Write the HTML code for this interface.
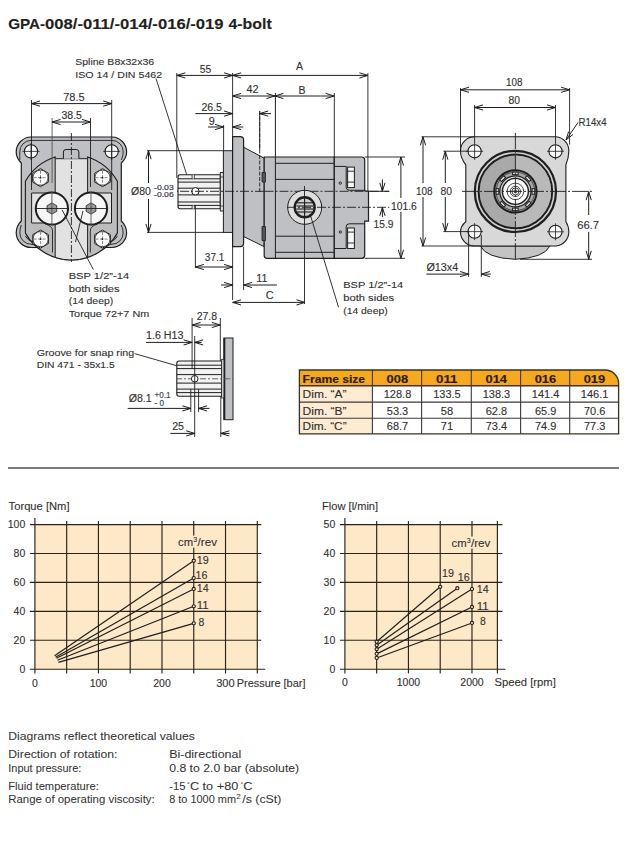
<!DOCTYPE html>
<html><head><meta charset="utf-8"><style>
html,body{margin:0;padding:0;background:#fff;}
svg{display:block;}
text{font-family:"Liberation Sans",sans-serif;}
</style></head><body>
<svg width="633" height="841" viewBox="0 0 633 841">
<rect width="633" height="841" fill="#fff"/>
<text x="8.2" y="28.5" font-size="13.8" text-anchor="start" font-weight="bold" fill="#231f20" stroke="#231f20" stroke-width="0.12" textLength="37" lengthAdjust="spacingAndGlyphs">GPA-</text>
<text x="45.0" y="28.5" font-size="13.8" text-anchor="start" font-weight="bold" fill="#231f20" stroke="#231f20" stroke-width="0.12" textLength="178.6" lengthAdjust="spacingAndGlyphs">008/-011/-014/-016/-019</text>
<text x="228.4" y="28.5" font-size="13.8" text-anchor="start" font-weight="bold" fill="#231f20" stroke="#231f20" stroke-width="0.12" textLength="43.3" lengthAdjust="spacingAndGlyphs">4-bolt</text>
<path d="M31,137 L112,137 A15,15 0 0 1 126.6,152 Q126.6,158 121.3,163 L121.3,221 Q126.6,226 126.6,233 A15,15 0 0 1 112,247.5 L31,247.5 A15,15 0 0 1 16.2,233 Q16.2,226 21.3,221 L21.3,163 Q16.2,158 16.2,152 A15,15 0 0 1 31,137 Z" fill="#bfc0c3" stroke="#1e1e1e" stroke-width="1.2"/>
<path d="M19.8,160 Q19.8,155 19.8,152 A11.3,11.3 0 0 1 31,140.4 L112,140.4 A11.3,11.3 0 0 1 123.2,152 Q123.2,156 121.3,160" fill="none" stroke="#1e1e1e" stroke-width="0.9"/>
<path d="M21.3,225 Q19.8,229 19.8,233 A11.3,11.3 0 0 0 31,244.2 L36,245" fill="none" stroke="#1e1e1e" stroke-width="0.9"/>
<path d="M121.3,225 Q123.2,229 123.2,233 A11.3,11.3 0 0 1 112,244.2 L107,245" fill="none" stroke="#1e1e1e" stroke-width="0.9"/>
<path d="M25.4,181.3 A52.8,52.8 0 0 1 117.4,181.3 L117.4,233.1 A52.8,52.8 0 0 1 25.4,233.1 Z" fill="#bcbcbc" stroke="none" stroke-width="1.0"/>
<path d="M25.4,233.1 L25.4,181.3 A52.8,52.8 0 0 1 55.2,156.95 L55.2,158.7" fill="none" stroke="#1e1e1e" stroke-width="1.1"/>
<path d="M117.4,233.1 L117.4,181.3 A52.8,52.8 0 0 0 87.6,156.95 L87.6,158.7" fill="none" stroke="#1e1e1e" stroke-width="1.1"/>
<path d="M25.4,233.1 A52.8,52.8 0 0 0 117.4,233.1" fill="none" stroke="#1e1e1e" stroke-width="1.2"/>
<path d="M25.4,236 Q27,240 33,242" fill="none" stroke="#1e1e1e" stroke-width="0.9"/>
<path d="M117.4,236 Q116,240 110,242" fill="none" stroke="#1e1e1e" stroke-width="0.9"/>
<path d="M55.2,158.7 L87.6,158.7 L87.6,193 L111.5,193 L111.5,223 L87.6,223 L87.6,257.45 A52.8,52.8 0 0 1 55.2,257.45 L55.2,223 L31.6,223 L31.6,193 L55.2,193 Z" fill="#e2e2e2" stroke="#1e1e1e" stroke-width="1.0"/>
<path d="M45.4,224 Q52.5,226 52.5,231 L52.5,252.5" fill="none" stroke="#1e1e1e" stroke-width="0.9"/>
<path d="M97.6,224 Q90.3,226 90.3,231 L90.3,252.5" fill="none" stroke="#1e1e1e" stroke-width="0.9"/>
<path d="M63.4,158.7 L63.4,152 Q63.4,149.5 66,149.5 L76.3,149.5 Q78.9,149.5 78.9,152 L78.9,158.7" fill="#bfc0c3" stroke="#1e1e1e" stroke-width="1.0"/>
<circle cx="31" cy="151.4" r="6.6" fill="#fafafa" stroke="#1e1e1e" stroke-width="1.1"/>
<line x1="22.5" y1="151.4" x2="39.5" y2="151.4" stroke="#1e1e1e" stroke-width="0.8"/>
<line x1="31" y1="143" x2="31" y2="160" stroke="#1e1e1e" stroke-width="0.8"/>
<circle cx="111.7" cy="151.4" r="6.6" fill="#fafafa" stroke="#1e1e1e" stroke-width="1.1"/>
<line x1="103.2" y1="151.4" x2="120.2" y2="151.4" stroke="#1e1e1e" stroke-width="0.8"/>
<line x1="111.7" y1="143" x2="111.7" y2="160" stroke="#1e1e1e" stroke-width="0.8"/>
<polygon points="48.29,182.20 40.50,186.70 32.71,182.20 32.71,173.20 40.50,168.70 48.29,173.20" fill="#f4f4f4" stroke="#1e1e1e" stroke-width="1.0"/>
<circle cx="40.5" cy="177.7" r="7.6" fill="#fafafa" stroke="#1e1e1e" stroke-width="0.8"/>
<line x1="33.5" y1="177.7" x2="47.5" y2="177.7" stroke="#777" stroke-width="0.9" stroke-dasharray="3,1.5"/>
<line x1="40.5" y1="170.7" x2="40.5" y2="184.7" stroke="#777" stroke-width="0.9" stroke-dasharray="3,1.5"/>
<circle cx="40.5" cy="177.7" r="0.9" fill="#1e1e1e" stroke="none" stroke-width="1.0"/>
<polygon points="110.29,182.20 102.50,186.70 94.71,182.20 94.71,173.20 102.50,168.70 110.29,173.20" fill="#f4f4f4" stroke="#1e1e1e" stroke-width="1.0"/>
<circle cx="102.5" cy="177.7" r="7.6" fill="#fafafa" stroke="#1e1e1e" stroke-width="0.8"/>
<line x1="95.5" y1="177.7" x2="109.5" y2="177.7" stroke="#777" stroke-width="0.9" stroke-dasharray="3,1.5"/>
<line x1="102.5" y1="170.7" x2="102.5" y2="184.7" stroke="#777" stroke-width="0.9" stroke-dasharray="3,1.5"/>
<circle cx="102.5" cy="177.7" r="0.9" fill="#1e1e1e" stroke="none" stroke-width="1.0"/>
<polygon points="48.39,243.60 40.60,248.10 32.81,243.60 32.81,234.60 40.60,230.10 48.39,234.60" fill="#f4f4f4" stroke="#1e1e1e" stroke-width="1.0"/>
<circle cx="40.6" cy="239.1" r="7.6" fill="#fafafa" stroke="#1e1e1e" stroke-width="0.8"/>
<line x1="33.6" y1="239.1" x2="47.6" y2="239.1" stroke="#777" stroke-width="0.9" stroke-dasharray="3,1.5"/>
<line x1="40.6" y1="232.1" x2="40.6" y2="246.1" stroke="#777" stroke-width="0.9" stroke-dasharray="3,1.5"/>
<circle cx="40.6" cy="239.1" r="0.9" fill="#1e1e1e" stroke="none" stroke-width="1.0"/>
<polygon points="110.29,243.60 102.50,248.10 94.71,243.60 94.71,234.60 102.50,230.10 110.29,234.60" fill="#f4f4f4" stroke="#1e1e1e" stroke-width="1.0"/>
<circle cx="102.5" cy="239.1" r="7.6" fill="#fafafa" stroke="#1e1e1e" stroke-width="0.8"/>
<line x1="95.5" y1="239.1" x2="109.5" y2="239.1" stroke="#777" stroke-width="0.9" stroke-dasharray="3,1.5"/>
<line x1="102.5" y1="232.1" x2="102.5" y2="246.1" stroke="#777" stroke-width="0.9" stroke-dasharray="3,1.5"/>
<circle cx="102.5" cy="239.1" r="0.9" fill="#1e1e1e" stroke="none" stroke-width="1.0"/>
<circle cx="51.9" cy="208.5" r="16.1" fill="#f6f6f6" stroke="#1e1e1e" stroke-width="2.0"/>
<polygon points="56.75,211.30 51.90,214.10 47.05,211.30 47.05,205.70 51.90,202.90 56.75,205.70" fill="#9a9a9a" stroke="#1e1e1e" stroke-width="0.8"/>
<line x1="34.9" y1="208.5" x2="68.9" y2="208.5" stroke="#1e1e1e" stroke-width="0.9"/>
<line x1="51.9" y1="191" x2="51.9" y2="226" stroke="#555" stroke-width="0.9"/>
<circle cx="51.9" cy="208.5" r="0.8" fill="#1e1e1e" stroke="none" stroke-width="1.0"/>
<circle cx="91.0" cy="208.5" r="16.1" fill="#f6f6f6" stroke="#1e1e1e" stroke-width="2.0"/>
<polygon points="95.85,211.30 91.00,214.10 86.15,211.30 86.15,205.70 91.00,202.90 95.85,205.70" fill="#9a9a9a" stroke="#1e1e1e" stroke-width="0.8"/>
<line x1="74.0" y1="208.5" x2="108.0" y2="208.5" stroke="#1e1e1e" stroke-width="0.9"/>
<line x1="91.0" y1="191" x2="91.0" y2="226" stroke="#555" stroke-width="0.9"/>
<circle cx="91.0" cy="208.5" r="0.8" fill="#1e1e1e" stroke="none" stroke-width="1.0"/>
<line x1="71.4" y1="133" x2="71.4" y2="262" stroke="#1e1e1e" stroke-width="0.9" stroke-dasharray="8,2,2,2"/>
<line x1="31.5" y1="100" x2="31.5" y2="190" stroke="#1e1e1e" stroke-width="0.9"/>
<line x1="111.7" y1="100" x2="111.7" y2="190" stroke="#1e1e1e" stroke-width="0.9"/>
<line x1="31.5" y1="103.6" x2="111.7" y2="103.6" stroke="#1e1e1e" stroke-width="1.0"/>
<polyline points="40.00,101.00 31.50,103.60 40.00,106.20" fill="none" stroke="#1e1e1e" stroke-width="1.0"/>
<polyline points="103.20,106.20 111.70,103.60 103.20,101.00" fill="none" stroke="#1e1e1e" stroke-width="1.0"/>
<text x="73.9" y="101.1" font-size="10" text-anchor="middle" font-weight="normal" fill="#303030" stroke="#303030" stroke-width="0.12" textLength="21.5" lengthAdjust="spacingAndGlyphs">78.5</text>
<line x1="52.1" y1="118" x2="52.1" y2="183" stroke="#555" stroke-width="0.9"/>
<line x1="90.5" y1="118" x2="90.5" y2="187" stroke="#1e1e1e" stroke-width="0.9"/>
<line x1="52.1" y1="122" x2="90.5" y2="122" stroke="#1e1e1e" stroke-width="1.0"/>
<polyline points="60.60,119.40 52.10,122.00 60.60,124.60" fill="none" stroke="#1e1e1e" stroke-width="1.0"/>
<polyline points="82.00,124.60 90.50,122.00 82.00,119.40" fill="none" stroke="#1e1e1e" stroke-width="1.0"/>
<text x="71.7" y="118.6" font-size="10" text-anchor="middle" font-weight="normal" fill="#303030" stroke="#303030" stroke-width="0.12" textLength="20.5" lengthAdjust="spacingAndGlyphs">38.5</text>
<line x1="62.1" y1="209.9" x2="93.4" y2="269.6" stroke="#1e1e1e" stroke-width="0.9"/>
<line x1="83" y1="210.9" x2="75.5" y2="242" stroke="#1e1e1e" stroke-width="0.9"/>
<text x="68.7" y="278.6" font-size="9.8" text-anchor="start" font-weight="normal" fill="#303030" stroke="#303030" stroke-width="0.12" textLength="60.5" lengthAdjust="spacingAndGlyphs">BSP 1/2&#8221;-14</text>
<text x="68.7" y="291.5" font-size="9.8" text-anchor="start" font-weight="normal" fill="#303030" stroke="#303030" stroke-width="0.12" textLength="51" lengthAdjust="spacingAndGlyphs">both sides</text>
<text x="68.7" y="304.40000000000003" font-size="9.8" text-anchor="start" font-weight="normal" fill="#303030" stroke="#303030" stroke-width="0.12" textLength="44.5" lengthAdjust="spacingAndGlyphs">(14 deep)</text>
<text x="68.7" y="317.3" font-size="9.8" text-anchor="start" font-weight="normal" fill="#303030" stroke="#303030" stroke-width="0.12" textLength="80.6" lengthAdjust="spacingAndGlyphs">Torque 72+7 Nm</text>
<text x="75.2" y="64.6" font-size="9.6" text-anchor="start" font-weight="normal" fill="#303030" stroke="#303030" stroke-width="0.12" textLength="79" lengthAdjust="spacingAndGlyphs">Spline B8x32x36</text>
<text x="75.2" y="77.5" font-size="9.6" text-anchor="start" font-weight="normal" fill="#303030" stroke="#303030" stroke-width="0.12" textLength="87" lengthAdjust="spacingAndGlyphs">ISO 14 / DIN 5462</text>
<line x1="156" y1="78.5" x2="186.6" y2="174.4" stroke="#1e1e1e" stroke-width="0.9"/>
<line x1="176.8" y1="73" x2="176.8" y2="178" stroke="#1e1e1e" stroke-width="0.9"/>
<line x1="232.6" y1="73" x2="232.6" y2="300" stroke="#1e1e1e" stroke-width="0.9"/>
<line x1="176.8" y1="75.4" x2="232.6" y2="75.4" stroke="#1e1e1e" stroke-width="1.0"/>
<polyline points="185.30,72.80 176.80,75.40 185.30,78.00" fill="none" stroke="#1e1e1e" stroke-width="1.0"/>
<polyline points="224.10,78.00 232.60,75.40 224.10,72.80" fill="none" stroke="#1e1e1e" stroke-width="1.0"/>
<text x="205.4" y="72.7" font-size="10" text-anchor="middle" font-weight="normal" fill="#303030" stroke="#303030" stroke-width="0.12" textLength="11.5" lengthAdjust="spacingAndGlyphs">55</text>
<line x1="232.6" y1="75.4" x2="367.9" y2="75.4" stroke="#1e1e1e" stroke-width="1.0"/>
<polyline points="241.10,72.80 232.60,75.40 241.10,78.00" fill="none" stroke="#1e1e1e" stroke-width="1.0"/>
<polyline points="359.40,78.00 367.90,75.40 359.40,72.80" fill="none" stroke="#1e1e1e" stroke-width="1.0"/>
<text x="299.5" y="69.6" font-size="10" text-anchor="middle" font-weight="normal" fill="#303030" stroke="#303030" stroke-width="0.12" textLength="7" lengthAdjust="spacingAndGlyphs">A</text>
<line x1="232.6" y1="96" x2="334.2" y2="96" stroke="#1e1e1e" stroke-width="1.0"/>
<polyline points="241.10,93.40 232.60,96.00 241.10,98.60" fill="none" stroke="#1e1e1e" stroke-width="1.0"/>
<polyline points="266.40,98.60 274.90,96.00 266.40,93.40" fill="none" stroke="#1e1e1e" stroke-width="1.0"/>
<polyline points="283.40,93.40 274.90,96.00 283.40,98.60" fill="none" stroke="#1e1e1e" stroke-width="1.0"/>
<polyline points="325.70,98.60 334.20,96.00 325.70,93.40" fill="none" stroke="#1e1e1e" stroke-width="1.0"/>
<text x="252.5" y="92.9" font-size="10" text-anchor="middle" font-weight="normal" fill="#303030" stroke="#303030" stroke-width="0.12" textLength="12" lengthAdjust="spacingAndGlyphs">42</text>
<text x="302" y="93.7" font-size="10" text-anchor="middle" font-weight="normal" fill="#303030" stroke="#303030" stroke-width="0.12" textLength="7" lengthAdjust="spacingAndGlyphs">B</text>
<line x1="195.3" y1="113.6" x2="232.6" y2="113.6" stroke="#1e1e1e" stroke-width="1.0"/>
<polyline points="224.10,116.20 232.60,113.60 224.10,111.00" fill="none" stroke="#1e1e1e" stroke-width="1.0"/>
<line x1="259.7" y1="113.6" x2="271" y2="113.6" stroke="#1e1e1e" stroke-width="1.0"/>
<polyline points="268.20,111.00 259.70,113.60 268.20,116.20" fill="none" stroke="#1e1e1e" stroke-width="1.0"/>
<text x="211.7" y="111" font-size="10" text-anchor="middle" font-weight="normal" fill="#303030" stroke="#303030" stroke-width="0.12" textLength="20.5" lengthAdjust="spacingAndGlyphs">26.5</text>
<line x1="208" y1="127" x2="223.6" y2="127" stroke="#1e1e1e" stroke-width="1.0"/>
<polyline points="215.10,129.60 223.60,127.00 215.10,124.40" fill="none" stroke="#1e1e1e" stroke-width="1.0"/>
<line x1="232.6" y1="127" x2="243.3" y2="127" stroke="#1e1e1e" stroke-width="1.0"/>
<polyline points="241.10,124.40 232.60,127.00 241.10,129.60" fill="none" stroke="#1e1e1e" stroke-width="1.0"/>
<line x1="223.6" y1="125" x2="223.6" y2="151" stroke="#1e1e1e" stroke-width="0.9"/>
<text x="211.7" y="124.5" font-size="10" text-anchor="middle" font-weight="normal" fill="#303030" stroke="#303030" stroke-width="0.12" textLength="6" lengthAdjust="spacingAndGlyphs">9</text>
<rect x="223.4" y="150.7" width="9.2" height="81.7" fill="#bfc0c3" stroke="#1e1e1e" stroke-width="1.0" rx="0"/>
<path d="M243.6,147.2 L264.2,158.2 L264.2,246.7 L243.6,236.5 Z" fill="#bfc0c3" stroke="#1e1e1e" stroke-width="1.0"/>
<path d="M232.6,136.6 L240.2,136.6 Q243.6,136.6 243.6,140 L243.6,243 Q243.6,246.6 240.2,246.6 L232.6,246.6 Z" fill="#bfc0c3" stroke="#1e1e1e" stroke-width="1.2"/>
<path d="M180,174.7 L220.3,174.7 L220.3,208.7 L180,208.7 Q178,208.7 178,206.5 L178,177 Q178,174.7 180,174.7 Z" fill="#f2f2f2" stroke="#1e1e1e" stroke-width="1.1"/>
<line x1="178" y1="178.8" x2="220.3" y2="178.8" stroke="#1e1e1e" stroke-width="1.0"/>
<line x1="178" y1="182.1" x2="220.3" y2="182.1" stroke="#1e1e1e" stroke-width="1.0"/>
<line x1="178" y1="188.2" x2="220.3" y2="188.2" stroke="#1e1e1e" stroke-width="1.0"/>
<line x1="178" y1="194.9" x2="220.3" y2="194.9" stroke="#1e1e1e" stroke-width="1.0"/>
<line x1="178" y1="202" x2="220.3" y2="202" stroke="#1e1e1e" stroke-width="1.0"/>
<line x1="178" y1="205.4" x2="220.3" y2="205.4" stroke="#1e1e1e" stroke-width="1.0"/>
<rect x="220.3" y="172.5" width="3.1" height="38.5" fill="#e0e0e0" stroke="#1e1e1e" stroke-width="0.9" rx="0"/>
<line x1="220.3" y1="177" x2="223.4" y2="177" stroke="#1e1e1e" stroke-width="0.7"/>
<line x1="220.3" y1="206" x2="223.4" y2="206" stroke="#1e1e1e" stroke-width="0.7"/>
<line x1="193.2" y1="174.7" x2="193.2" y2="178.8" stroke="#fff" stroke-width="1.4"/>
<line x1="193.2" y1="205.4" x2="193.2" y2="208.7" stroke="#fff" stroke-width="1.4"/>
<line x1="192.1" y1="174.7" x2="192.1" y2="178.8" stroke="#1e1e1e" stroke-width="0.8"/>
<line x1="194.3" y1="174.7" x2="194.3" y2="178.8" stroke="#1e1e1e" stroke-width="0.8"/>
<line x1="192.1" y1="205.4" x2="192.1" y2="208.7" stroke="#1e1e1e" stroke-width="0.8"/>
<line x1="194.3" y1="205.4" x2="194.3" y2="208.7" stroke="#1e1e1e" stroke-width="0.8"/>
<circle cx="195.4" cy="191.3" r="3.7" fill="#fff" stroke="#1e1e1e" stroke-width="1.0"/>
<line x1="195.4" y1="205" x2="195.4" y2="267.8" stroke="#1e1e1e" stroke-width="0.9"/>
<line x1="150" y1="191.3" x2="264" y2="191.3" stroke="#1e1e1e" stroke-width="0.9" stroke-dasharray="9,2,2,2"/>
<line x1="147" y1="150.7" x2="223.4" y2="150.7" stroke="#1e1e1e" stroke-width="0.9"/>
<line x1="147" y1="232.4" x2="223.4" y2="232.4" stroke="#1e1e1e" stroke-width="0.9"/>
<line x1="148.5" y1="150.7" x2="148.5" y2="232.4" stroke="#1e1e1e" stroke-width="1.0"/>
<polyline points="151.10,159.20 148.50,150.70 145.90,159.20" fill="none" stroke="#1e1e1e" stroke-width="1.0"/>
<polyline points="145.90,223.90 148.50,232.40 151.10,223.90" fill="none" stroke="#1e1e1e" stroke-width="1.0"/>
<rect x="129" y="183" width="48" height="16" fill="#fff" stroke="none" stroke-width="1.0" rx="0"/>
<text x="131.1" y="194.6" font-size="10.5" text-anchor="start" font-weight="normal" fill="#303030" stroke="#303030" stroke-width="0.12" textLength="19.8" lengthAdjust="spacingAndGlyphs">Ø80</text>
<text x="154" y="189.6" font-size="7.5" text-anchor="start" font-weight="normal" fill="#3b3b5a" stroke="#3b3b5a" stroke-width="0.2" textLength="19.7" lengthAdjust="spacingAndGlyphs">-0.03</text>
<text x="154" y="196.5" font-size="7.5" text-anchor="start" font-weight="normal" fill="#3b3b5a" stroke="#3b3b5a" stroke-width="0.2" textLength="19.7" lengthAdjust="spacingAndGlyphs">-0.06</text>
<line x1="243.6" y1="246.6" x2="243.6" y2="290" stroke="#1e1e1e" stroke-width="0.9"/>
<line x1="195.4" y1="267" x2="232.6" y2="267" stroke="#1e1e1e" stroke-width="1.0"/>
<polyline points="203.90,264.40 195.40,267.00 203.90,269.60" fill="none" stroke="#1e1e1e" stroke-width="1.0"/>
<polyline points="224.10,269.60 232.60,267.00 224.10,264.40" fill="none" stroke="#1e1e1e" stroke-width="1.0"/>
<text x="214.6" y="261.4" font-size="10" text-anchor="middle" font-weight="normal" fill="#303030" stroke="#303030" stroke-width="0.12" textLength="19.5" lengthAdjust="spacingAndGlyphs">37.1</text>
<line x1="221" y1="285" x2="232.6" y2="285" stroke="#1e1e1e" stroke-width="1.0"/>
<polyline points="224.10,287.60 232.60,285.00 224.10,282.40" fill="none" stroke="#1e1e1e" stroke-width="1.0"/>
<line x1="243.6" y1="285" x2="276.9" y2="285" stroke="#1e1e1e" stroke-width="1.0"/>
<polyline points="252.10,282.40 243.60,285.00 252.10,287.60" fill="none" stroke="#1e1e1e" stroke-width="1.0"/>
<text x="261.8" y="281.9" font-size="10" text-anchor="middle" font-weight="normal" fill="#303030" stroke="#303030" stroke-width="0.12" textLength="11" lengthAdjust="spacingAndGlyphs">11</text>
<line x1="232.6" y1="302.4" x2="305" y2="302.4" stroke="#1e1e1e" stroke-width="1.0"/>
<polyline points="241.10,299.80 232.60,302.40 241.10,305.00" fill="none" stroke="#1e1e1e" stroke-width="1.0"/>
<polyline points="296.50,305.00 305.00,302.40 296.50,299.80" fill="none" stroke="#1e1e1e" stroke-width="1.0"/>
<text x="269.7" y="299.2" font-size="10" text-anchor="middle" font-weight="normal" fill="#303030" stroke="#303030" stroke-width="0.12" textLength="7.9" lengthAdjust="spacingAndGlyphs">C</text>
<path d="M264.2,157 L334.3,157 L334.3,258.3 L267,258.3 Q264.2,258.3 264.2,255.5 Z" fill="#bfc0c3" stroke="#1e1e1e" stroke-width="1.2"/>
<line x1="275.4" y1="163.3" x2="334.3" y2="163.3" stroke="#1e1e1e" stroke-width="1.0"/>
<line x1="275.4" y1="179.4" x2="334.3" y2="179.4" stroke="#1e1e1e" stroke-width="1.0"/>
<line x1="275.4" y1="236.2" x2="334.3" y2="236.2" stroke="#1e1e1e" stroke-width="1.0"/>
<line x1="275.4" y1="252.3" x2="334.3" y2="252.3" stroke="#1e1e1e" stroke-width="1.0"/>
<path d="M262,172.5 L265.5,172.5 L265.5,182 L262,182 Z" fill="#555" stroke="#1e1e1e" stroke-width="0.8"/>
<path d="M262,226.5 L265.5,226.5 L265.5,240.6 L262,240.6 Z" fill="#555" stroke="#1e1e1e" stroke-width="0.8"/>
<line x1="275.4" y1="93" x2="275.4" y2="258.3" stroke="#1e1e1e" stroke-width="1.0"/>
<line x1="259.7" y1="111" x2="259.7" y2="192" stroke="#1e1e1e" stroke-width="0.9" stroke-dasharray="4,1.5"/>
<line x1="259.7" y1="111" x2="259.7" y2="150" stroke="#1e1e1e" stroke-width="0.9"/>
<path d="M334.3,157 L361.7,157 Q364.7,157 364.7,160 L364.7,191 L368.5,191 L368.5,221.1 L364.7,221.1 L364.7,255.3 Q364.7,258.3 361.7,258.3 L334.3,258.3 Z" fill="#bfc0c3" stroke="#1e1e1e" stroke-width="1.2"/>
<path d="M334.3,166.4 L346.2,166.4 L346.2,187.3 Q346.2,190.3 349.2,190.3 L364.7,190.3" fill="none" stroke="#1e1e1e" stroke-width="1.0"/>
<path d="M334.3,248.5 L346.2,248.5 L346.2,226.8 Q346.2,223.8 349.2,223.8 L364.7,223.8" fill="none" stroke="#1e1e1e" stroke-width="1.0"/>
<rect x="347.6" y="167.1" width="6.8" height="20.5" fill="#f6f6f6" stroke="#1e1e1e" stroke-width="1.0" rx="0"/>
<line x1="347.6" y1="171.2" x2="354.4" y2="171.2" stroke="#1e1e1e" stroke-width="0.9"/>
<line x1="347.6" y1="182.1" x2="354.4" y2="182.1" stroke="#1e1e1e" stroke-width="0.9"/>
<rect x="347.6" y="228" width="6.8" height="20.5" fill="#f6f6f6" stroke="#1e1e1e" stroke-width="1.0" rx="0"/>
<line x1="347.6" y1="232.1" x2="354.4" y2="232.1" stroke="#1e1e1e" stroke-width="0.9"/>
<line x1="347.6" y1="243.0" x2="354.4" y2="243.0" stroke="#1e1e1e" stroke-width="0.9"/>
<circle cx="340.3" cy="183.1" r="1.2" fill="none" stroke="#1e1e1e" stroke-width="0.9"/>
<circle cx="340.3" cy="232" r="1.2" fill="none" stroke="#1e1e1e" stroke-width="0.9"/>
<line x1="367.9" y1="73" x2="367.9" y2="191" stroke="#1e1e1e" stroke-width="0.9"/>
<line x1="264.5" y1="191.3" x2="389.3" y2="191.3" stroke="#1e1e1e" stroke-width="0.9" stroke-dasharray="9,2,2,2"/>
<line x1="334.3" y1="93" x2="334.3" y2="157" stroke="#1e1e1e" stroke-width="0.9"/>
<circle cx="304.7" cy="207.3" r="17.0" fill="#dedede" stroke="#1e1e1e" stroke-width="1.0"/>
<circle cx="304.7" cy="207.3" r="10.0" fill="#d0d0d0" stroke="#1e1e1e" stroke-width="2.4"/>
<line x1="296.5" y1="202.8" x2="313" y2="202.8" stroke="#1e1e1e" stroke-width="1.1"/>
<line x1="296.5" y1="206" x2="313" y2="206" stroke="#1e1e1e" stroke-width="1.1"/>
<line x1="296.5" y1="209" x2="313" y2="209" stroke="#1e1e1e" stroke-width="1.1"/>
<line x1="296.5" y1="212" x2="313" y2="212" stroke="#1e1e1e" stroke-width="1.1"/>
<line x1="304.7" y1="196" x2="304.7" y2="218" stroke="#1e1e1e" stroke-width="0.9"/>
<line x1="287" y1="207.3" x2="389.3" y2="207.3" stroke="#1e1e1e" stroke-width="0.9" stroke-dasharray="9,2,2,2"/>
<line x1="304.5" y1="186" x2="304.5" y2="304" stroke="#1e1e1e" stroke-width="0.9"/>
<line x1="310" y1="214" x2="338.5" y2="307.1" stroke="#1e1e1e" stroke-width="0.9"/>
<text x="343.2" y="288.2" font-size="9.8" text-anchor="start" font-weight="normal" fill="#303030" stroke="#303030" stroke-width="0.12" textLength="60.1" lengthAdjust="spacingAndGlyphs">BSP 1/2&#8221;-14</text>
<text x="343.2" y="300.84999999999997" font-size="9.8" text-anchor="start" font-weight="normal" fill="#303030" stroke="#303030" stroke-width="0.12" textLength="51" lengthAdjust="spacingAndGlyphs">both sides</text>
<text x="343.2" y="313.5" font-size="9.8" text-anchor="start" font-weight="normal" fill="#303030" stroke="#303030" stroke-width="0.12" textLength="44.5" lengthAdjust="spacingAndGlyphs">(14 deep)</text>
<line x1="364.7" y1="157" x2="405" y2="157" stroke="#1e1e1e" stroke-width="0.9"/>
<line x1="364.7" y1="258.3" x2="405" y2="258.3" stroke="#1e1e1e" stroke-width="0.9"/>
<line x1="400.9" y1="157" x2="400.9" y2="258.3" stroke="#1e1e1e" stroke-width="1.0"/>
<polyline points="403.50,165.50 400.90,157.00 398.30,165.50" fill="none" stroke="#1e1e1e" stroke-width="1.0"/>
<polyline points="398.30,249.80 400.90,258.30 403.50,249.80" fill="none" stroke="#1e1e1e" stroke-width="1.0"/>
<rect x="390" y="198" width="28" height="14" fill="#fff" stroke="none" stroke-width="1.0" rx="0"/>
<text x="391" y="209.6" font-size="10" text-anchor="start" font-weight="normal" fill="#303030" stroke="#303030" stroke-width="0.12" textLength="25.7" lengthAdjust="spacingAndGlyphs">101.6</text>
<line x1="368.5" y1="191.3" x2="389.3" y2="191.3" stroke="#1e1e1e" stroke-width="0.9"/>
<line x1="382.4" y1="179.4" x2="382.4" y2="191.3" stroke="#1e1e1e" stroke-width="1.0"/>
<polyline points="379.80,182.80 382.40,191.30 385.00,182.80" fill="none" stroke="#1e1e1e" stroke-width="1.0"/>
<line x1="382.4" y1="207.3" x2="382.4" y2="217" stroke="#1e1e1e" stroke-width="1.0"/>
<polyline points="385.00,215.80 382.40,207.30 379.80,215.80" fill="none" stroke="#1e1e1e" stroke-width="1.0"/>
<text x="373.6" y="228" font-size="10" text-anchor="start" font-weight="normal" fill="#303030" stroke="#303030" stroke-width="0.12" textLength="19.8" lengthAdjust="spacingAndGlyphs">15.9</text>
<path d="M480.4,246 Q486,258 515,259.3 Q544,258 550,246 Z" fill="#c4c4c4" stroke="#1e1e1e" stroke-width="1.0"/>
<path d="M474.6,136.8 L556,136.8 A14,14 0 0 1 568.8,151.3 Q568.8,158 565.9,164.8 L565.9,221.7 Q568.8,226 568.8,231.8 A14,14 0 0 1 556,246 L474.6,246 A14,14 0 0 1 460.5,231.8 Q460.5,226 465.8,221.7 L465.8,164.8 Q460.5,158 460.5,151.3 A14,14 0 0 1 474.6,136.8 Z" fill="#d8d8d8" stroke="#1e1e1e" stroke-width="1.1"/>
<circle cx="515.4" cy="191.4" r="40.6" fill="#d2d2d2" stroke="#1e1e1e" stroke-width="2.2"/>
<circle cx="515.4" cy="191.4" r="36.8" fill="#a9a9a9" stroke="#1e1e1e" stroke-width="2.0"/>
<path d="M515.4,155.60000000000002 A35.8,35.8 0 0 1 515.4,227.2 Z" fill="#b9b9b9" stroke="none"/>
<circle cx="515.4" cy="191.4" r="21.2" fill="#a8a8a8" stroke="#1e1e1e" stroke-width="2.0"/>
<circle cx="515.4" cy="191.4" r="19.3" fill="none" stroke="#333" stroke-width="0.8"/>
<circle cx="515.4" cy="191.4" r="15.6" fill="#d4d4d4" stroke="#1e1e1e" stroke-width="1.2"/>
<rect x="512.60" y="172.10" width="5.6" height="2.6" fill="#e4e4e4" stroke="#1e1e1e" stroke-width="1.0" transform="rotate(0.0 515.40 173.40)"/>
<rect x="525.33" y="177.37" width="5.6" height="2.6" fill="#e4e4e4" stroke="#1e1e1e" stroke-width="1.0" transform="rotate(45.0 528.13 178.67)"/>
<rect x="530.60" y="190.10" width="5.6" height="2.6" fill="#e4e4e4" stroke="#1e1e1e" stroke-width="1.0" transform="rotate(90.0 533.40 191.40)"/>
<rect x="525.33" y="202.83" width="5.6" height="2.6" fill="#e4e4e4" stroke="#1e1e1e" stroke-width="1.0" transform="rotate(135.0 528.13 204.13)"/>
<rect x="512.60" y="208.10" width="5.6" height="2.6" fill="#e4e4e4" stroke="#1e1e1e" stroke-width="1.0" transform="rotate(180.0 515.40 209.40)"/>
<rect x="499.87" y="202.83" width="5.6" height="2.6" fill="#e4e4e4" stroke="#1e1e1e" stroke-width="1.0" transform="rotate(225.0 502.67 204.13)"/>
<rect x="494.60" y="190.10" width="5.6" height="2.6" fill="#e4e4e4" stroke="#1e1e1e" stroke-width="1.0" transform="rotate(270.0 497.40 191.40)"/>
<rect x="499.87" y="177.37" width="5.6" height="2.6" fill="#e4e4e4" stroke="#1e1e1e" stroke-width="1.0" transform="rotate(315.0 502.67 178.67)"/>
<circle cx="515.4" cy="191.4" r="13.0" fill="#fbfbfb" stroke="#1e1e1e" stroke-width="1.4"/>
<circle cx="515.4" cy="191.4" r="8.3" fill="none" stroke="#333" stroke-width="0.9"/>
<circle cx="515.4" cy="191.4" r="5.1" fill="none" stroke="#333" stroke-width="0.9"/>
<circle cx="515.4" cy="191.4" r="3.5" fill="none" stroke="#333" stroke-width="0.9"/>
<circle cx="515.4" cy="191.4" r="1.5" fill="none" stroke="#333" stroke-width="0.9"/>
<line x1="462" y1="191.4" x2="592" y2="191.4" stroke="#1e1e1e" stroke-width="0.9" stroke-dasharray="16,2,2,2"/>
<line x1="515.4" y1="133" x2="515.4" y2="261" stroke="#1e1e1e" stroke-width="0.9" stroke-dasharray="16,2,2,2"/>
<circle cx="474.6" cy="151.3" r="6.6" fill="#fafafa" stroke="#1e1e1e" stroke-width="1.1"/>
<line x1="466.1" y1="151.3" x2="483.1" y2="151.3" stroke="#1e1e1e" stroke-width="0.8"/>
<line x1="474.6" y1="142.8" x2="474.6" y2="159.8" stroke="#1e1e1e" stroke-width="0.8"/>
<circle cx="555.5" cy="151.3" r="6.6" fill="#fafafa" stroke="#1e1e1e" stroke-width="1.1"/>
<line x1="547.0" y1="151.3" x2="564.0" y2="151.3" stroke="#1e1e1e" stroke-width="0.8"/>
<line x1="555.5" y1="142.8" x2="555.5" y2="159.8" stroke="#1e1e1e" stroke-width="0.8"/>
<circle cx="474.6" cy="231.6" r="6.6" fill="#fafafa" stroke="#1e1e1e" stroke-width="1.1"/>
<line x1="466.1" y1="231.6" x2="483.1" y2="231.6" stroke="#1e1e1e" stroke-width="0.8"/>
<line x1="474.6" y1="223.1" x2="474.6" y2="240.1" stroke="#1e1e1e" stroke-width="0.8"/>
<circle cx="555.5" cy="231.8" r="6.6" fill="#fafafa" stroke="#1e1e1e" stroke-width="1.1"/>
<line x1="547.0" y1="231.8" x2="564.0" y2="231.8" stroke="#1e1e1e" stroke-width="0.8"/>
<line x1="555.5" y1="223.3" x2="555.5" y2="240.3" stroke="#1e1e1e" stroke-width="0.8"/>
<line x1="460.5" y1="88" x2="460.5" y2="151" stroke="#1e1e1e" stroke-width="0.9"/>
<line x1="569.6" y1="88" x2="569.6" y2="144.6" stroke="#1e1e1e" stroke-width="0.9"/>
<line x1="460.5" y1="89.8" x2="569.6" y2="89.8" stroke="#1e1e1e" stroke-width="1.0"/>
<polyline points="469.00,87.20 460.50,89.80 469.00,92.40" fill="none" stroke="#1e1e1e" stroke-width="1.0"/>
<polyline points="561.10,92.40 569.60,89.80 561.10,87.20" fill="none" stroke="#1e1e1e" stroke-width="1.0"/>
<text x="514.3" y="85.6" font-size="10" text-anchor="middle" font-weight="normal" fill="#303030" stroke="#303030" stroke-width="0.12" textLength="16.5" lengthAdjust="spacingAndGlyphs">108</text>
<line x1="474.6" y1="105" x2="474.6" y2="143" stroke="#1e1e1e" stroke-width="0.9"/>
<line x1="555.5" y1="105" x2="555.5" y2="143" stroke="#1e1e1e" stroke-width="0.9"/>
<line x1="474.6" y1="107.5" x2="555.5" y2="107.5" stroke="#1e1e1e" stroke-width="1.0"/>
<polyline points="483.10,104.90 474.60,107.50 483.10,110.10" fill="none" stroke="#1e1e1e" stroke-width="1.0"/>
<polyline points="547.00,110.10 555.50,107.50 547.00,104.90" fill="none" stroke="#1e1e1e" stroke-width="1.0"/>
<text x="514.3" y="104" font-size="10" text-anchor="middle" font-weight="normal" fill="#303030" stroke="#303030" stroke-width="0.12" textLength="11.5" lengthAdjust="spacingAndGlyphs">80</text>
<line x1="421.5" y1="136.8" x2="474" y2="136.8" stroke="#1e1e1e" stroke-width="0.9"/>
<line x1="421.5" y1="246" x2="480" y2="246" stroke="#1e1e1e" stroke-width="0.9"/>
<line x1="423" y1="136.8" x2="423" y2="246" stroke="#1e1e1e" stroke-width="1.0"/>
<polyline points="425.60,145.30 423.00,136.80 420.40,145.30" fill="none" stroke="#1e1e1e" stroke-width="1.0"/>
<polyline points="420.40,237.50 423.00,246.00 425.60,237.50" fill="none" stroke="#1e1e1e" stroke-width="1.0"/>
<rect x="415" y="183" width="19" height="14" fill="#fff" stroke="none" stroke-width="1.0" rx="0"/>
<text x="416" y="194.8" font-size="10" text-anchor="start" font-weight="normal" fill="#303030" stroke="#303030" stroke-width="0.12" textLength="16.5" lengthAdjust="spacingAndGlyphs">108</text>
<line x1="443.4" y1="151.2" x2="468" y2="151.2" stroke="#1e1e1e" stroke-width="0.9"/>
<line x1="443.4" y1="231.6" x2="468" y2="231.6" stroke="#1e1e1e" stroke-width="0.9"/>
<line x1="445.3" y1="151.2" x2="445.3" y2="231.6" stroke="#1e1e1e" stroke-width="1.0"/>
<polyline points="447.90,159.70 445.30,151.20 442.70,159.70" fill="none" stroke="#1e1e1e" stroke-width="1.0"/>
<polyline points="442.70,223.10 445.30,231.60 447.90,223.10" fill="none" stroke="#1e1e1e" stroke-width="1.0"/>
<rect x="439" y="183" width="15" height="14" fill="#fff" stroke="none" stroke-width="1.0" rx="0"/>
<text x="440.6" y="194.8" font-size="10" text-anchor="start" font-weight="normal" fill="#303030" stroke="#303030" stroke-width="0.12" textLength="11.5" lengthAdjust="spacingAndGlyphs">80</text>
<text x="578.6" y="125.6" font-size="10" text-anchor="start" font-weight="normal" fill="#303030" stroke="#303030" stroke-width="0.12" textLength="28" lengthAdjust="spacingAndGlyphs">R14x4</text>
<line x1="578" y1="122.5" x2="566" y2="140" stroke="#1e1e1e" stroke-width="1.0"/>
<polyline points="568.66,131.52 566.00,140.00 572.95,134.46" fill="none" stroke="#1e1e1e" stroke-width="1.0"/>
<line x1="520" y1="259.3" x2="592" y2="259.3" stroke="#1e1e1e" stroke-width="0.9"/>
<line x1="588.7" y1="191.6" x2="588.7" y2="259.3" stroke="#1e1e1e" stroke-width="1.0"/>
<polyline points="591.30,200.10 588.70,191.60 586.10,200.10" fill="none" stroke="#1e1e1e" stroke-width="1.0"/>
<polyline points="586.10,250.80 588.70,259.30 591.30,250.80" fill="none" stroke="#1e1e1e" stroke-width="1.0"/>
<rect x="576" y="215" width="25" height="17" fill="#fff" stroke="none" stroke-width="1.0" rx="0"/>
<text x="577.3" y="229" font-size="10" text-anchor="start" font-weight="normal" fill="#303030" stroke="#303030" stroke-width="0.12" textLength="21.8" lengthAdjust="spacingAndGlyphs">66.7</text>
<line x1="468.6" y1="231" x2="468.6" y2="277" stroke="#1e1e1e" stroke-width="0.9"/>
<line x1="481.3" y1="235" x2="481.3" y2="277" stroke="#1e1e1e" stroke-width="0.9"/>
<line x1="426.4" y1="274.1" x2="468.6" y2="274.1" stroke="#1e1e1e" stroke-width="1.0"/>
<polyline points="460.10,276.70 468.60,274.10 460.10,271.50" fill="none" stroke="#1e1e1e" stroke-width="1.0"/>
<line x1="481.3" y1="274.1" x2="490.8" y2="274.1" stroke="#1e1e1e" stroke-width="1.0"/>
<polyline points="489.80,271.50 481.30,274.10 489.80,276.70" fill="none" stroke="#1e1e1e" stroke-width="1.0"/>
<text x="426.4" y="271.3" font-size="10" text-anchor="start" font-weight="normal" fill="#303030" stroke="#303030" stroke-width="0.12" textLength="31.8" lengthAdjust="spacingAndGlyphs">Ø13x4</text>
<text x="36.7" y="355.6" font-size="9.8" text-anchor="start" font-weight="normal" fill="#303030" stroke="#303030" stroke-width="0.12" textLength="97.5" lengthAdjust="spacingAndGlyphs">Groove for snap ring</text>
<text x="36.7" y="367.8" font-size="9.8" text-anchor="start" font-weight="normal" fill="#303030" stroke="#303030" stroke-width="0.12" textLength="78" lengthAdjust="spacingAndGlyphs">DIN 471 - 35x1.5</text>
<line x1="134.7" y1="353.6" x2="192.1" y2="370.2" stroke="#1e1e1e" stroke-width="0.9"/>
<rect x="223.9" y="338" width="9.1" height="81.7" fill="#bfc0c3" stroke="#1e1e1e" stroke-width="1.0" rx="0"/>
<line x1="224.4" y1="338" x2="224.4" y2="419.7" stroke="#1e1e1e" stroke-width="1.8"/>
<path d="M179,361 L221.7,361 L221.7,396.2 L179,396.2 Q176.8,396.2 176.8,394 L176.8,363.2 Q176.8,361 179,361 Z" fill="#f2f2f2" stroke="#1e1e1e" stroke-width="1.1"/>
<line x1="176.8" y1="365.2" x2="221.7" y2="365.2" stroke="#1e1e1e" stroke-width="1.0"/>
<line x1="176.8" y1="368.6" x2="221.7" y2="368.6" stroke="#1e1e1e" stroke-width="1.0"/>
<line x1="176.8" y1="374.6" x2="221.7" y2="374.6" stroke="#1e1e1e" stroke-width="1.0"/>
<line x1="176.8" y1="383.1" x2="221.7" y2="383.1" stroke="#1e1e1e" stroke-width="1.0"/>
<line x1="176.8" y1="389.1" x2="221.7" y2="389.1" stroke="#1e1e1e" stroke-width="1.0"/>
<line x1="176.8" y1="392.6" x2="221.7" y2="392.6" stroke="#1e1e1e" stroke-width="1.0"/>
<rect x="221.7" y="359.3" width="2.2" height="38.7" fill="#e0e0e0" stroke="#1e1e1e" stroke-width="0.8" rx="0"/>
<line x1="176" y1="378.8" x2="233" y2="378.8" stroke="#555" stroke-width="0.9" stroke-dasharray="6,2,2,2"/>
<circle cx="194.7" cy="378.8" r="3.3" fill="#fff" stroke="#1e1e1e" stroke-width="1.0"/>
<line x1="192.1" y1="318" x2="192.1" y2="368.6" stroke="#1e1e1e" stroke-width="0.9"/>
<line x1="220.3" y1="318" x2="220.3" y2="361" stroke="#1e1e1e" stroke-width="0.9"/>
<line x1="192.1" y1="325" x2="220.3" y2="325" stroke="#1e1e1e" stroke-width="1.0"/>
<polyline points="200.60,322.40 192.10,325.00 200.60,327.60" fill="none" stroke="#1e1e1e" stroke-width="1.0"/>
<polyline points="211.80,327.60 220.30,325.00 211.80,322.40" fill="none" stroke="#1e1e1e" stroke-width="1.0"/>
<text x="206.9" y="319.8" font-size="10" text-anchor="middle" font-weight="normal" fill="#303030" stroke="#303030" stroke-width="0.12" textLength="20.5" lengthAdjust="spacingAndGlyphs">27.8</text>
<line x1="146" y1="342.4" x2="192.1" y2="342.4" stroke="#1e1e1e" stroke-width="1.0"/>
<polyline points="183.60,345.00 192.10,342.40 183.60,339.80" fill="none" stroke="#1e1e1e" stroke-width="1.0"/>
<line x1="194.7" y1="342.4" x2="201.7" y2="342.4" stroke="#1e1e1e" stroke-width="1.0"/>
<polyline points="203.20,339.80 194.70,342.40 203.20,345.00" fill="none" stroke="#1e1e1e" stroke-width="1.0"/>
<line x1="194.7" y1="336" x2="194.7" y2="437" stroke="#1e1e1e" stroke-width="0.9"/>
<text x="146" y="339.4" font-size="10" text-anchor="start" font-weight="normal" fill="#303030" stroke="#303030" stroke-width="0.12" textLength="37.4" lengthAdjust="spacingAndGlyphs">1.6 H13</text>
<line x1="190.8" y1="389" x2="190.8" y2="412" stroke="#1e1e1e" stroke-width="0.9"/>
<line x1="198.6" y1="389" x2="198.6" y2="412" stroke="#1e1e1e" stroke-width="0.9"/>
<line x1="127.7" y1="408.4" x2="190.8" y2="408.4" stroke="#1e1e1e" stroke-width="1.0"/>
<polyline points="182.30,411.00 190.80,408.40 182.30,405.80" fill="none" stroke="#1e1e1e" stroke-width="1.0"/>
<line x1="198.6" y1="408.4" x2="209.5" y2="408.4" stroke="#1e1e1e" stroke-width="1.0"/>
<polyline points="207.10,405.80 198.60,408.40 207.10,411.00" fill="none" stroke="#1e1e1e" stroke-width="1.0"/>
<text x="128.7" y="402.4" font-size="10.5" text-anchor="start" font-weight="normal" fill="#303030" stroke="#303030" stroke-width="0.12" textLength="23" lengthAdjust="spacingAndGlyphs">Ø8.1</text>
<text x="154.6" y="398.4" font-size="8.2" text-anchor="start" font-weight="normal" fill="#3b3b5a" stroke="#3b3b5a" stroke-width="0.15" textLength="16" lengthAdjust="spacingAndGlyphs">+0.1</text>
<text x="154.6" y="405.5" font-size="8.2" text-anchor="start" font-weight="normal" fill="#3b3b5a" stroke="#3b3b5a" stroke-width="0.15" textLength="9.6" lengthAdjust="spacingAndGlyphs">- 0</text>
<line x1="220.8" y1="396" x2="220.8" y2="437" stroke="#1e1e1e" stroke-width="0.9"/>
<line x1="170.4" y1="433.4" x2="194.7" y2="433.4" stroke="#1e1e1e" stroke-width="1.0"/>
<polyline points="186.20,436.00 194.70,433.40 186.20,430.80" fill="none" stroke="#1e1e1e" stroke-width="1.0"/>
<line x1="220.8" y1="433.4" x2="229.5" y2="433.4" stroke="#1e1e1e" stroke-width="1.0"/>
<polyline points="229.30,430.80 220.80,433.40 229.30,436.00" fill="none" stroke="#1e1e1e" stroke-width="1.0"/>
<text x="178.1" y="430" font-size="10" text-anchor="middle" font-weight="normal" fill="#303030" stroke="#303030" stroke-width="0.12" textLength="11.9" lengthAdjust="spacingAndGlyphs">25</text>
<path d="M299.4,385.7 L299.4,370.0 L605.1,370.0 A13.5,13.5 0 0 1 618.6,383.5 L618.6,385.7 Z" fill="#f6a91f"/>
<rect x="299.4" y="385.7" width="73.0" height="48.10000000000002" fill="#fdebd2" stroke="none" stroke-width="1.0" rx="0"/>
<rect x="372.4" y="385.7" width="246.20000000000005" height="48.10000000000002" fill="#ffffff" stroke="none" stroke-width="1.0" rx="0"/>
<line x1="299.4" y1="402.1" x2="618.6" y2="402.1" stroke="#3a3a3a" stroke-width="1.1"/>
<line x1="299.4" y1="418.2" x2="618.6" y2="418.2" stroke="#3a3a3a" stroke-width="1.1"/>
<line x1="299.4" y1="385.7" x2="618.6" y2="385.7" stroke="#4a3010" stroke-width="1.5"/>
<line x1="372.4" y1="370.0" x2="372.4" y2="433.8" stroke="#3a3a3a" stroke-width="1.1"/>
<line x1="421.6" y1="370.0" x2="421.6" y2="433.8" stroke="#3a3a3a" stroke-width="1.1"/>
<line x1="471.3" y1="370.0" x2="471.3" y2="433.8" stroke="#3a3a3a" stroke-width="1.1"/>
<line x1="520.6" y1="370.0" x2="520.6" y2="433.8" stroke="#3a3a3a" stroke-width="1.1"/>
<line x1="569.7" y1="370.0" x2="569.7" y2="433.8" stroke="#3a3a3a" stroke-width="1.1"/>
<path d="M299.4,433.8 L299.4,370.0 L605.1,370.0 A13.5,13.5 0 0 1 618.6,383.5 L618.6,433.8 Z" fill="none" stroke="#3a3020" stroke-width="1.3"/>
<text x="302.6" y="382.7" font-size="11" text-anchor="start" font-weight="bold" fill="#2a1a08" stroke="#2a1a08" stroke-width="0.15" textLength="62.5" lengthAdjust="spacingAndGlyphs">Frame size</text>
<text x="397.3" y="382.7" font-size="11.2" text-anchor="middle" font-weight="bold" fill="#2a1a08" stroke="#2a1a08" stroke-width="0.15" textLength="21.5" lengthAdjust="spacingAndGlyphs">008</text>
<text x="446.75000000000006" y="382.7" font-size="11.2" text-anchor="middle" font-weight="bold" fill="#2a1a08" stroke="#2a1a08" stroke-width="0.15" textLength="21.5" lengthAdjust="spacingAndGlyphs">011</text>
<text x="496.25000000000006" y="382.7" font-size="11.2" text-anchor="middle" font-weight="bold" fill="#2a1a08" stroke="#2a1a08" stroke-width="0.15" textLength="21.5" lengthAdjust="spacingAndGlyphs">014</text>
<text x="545.45" y="382.7" font-size="11.2" text-anchor="middle" font-weight="bold" fill="#2a1a08" stroke="#2a1a08" stroke-width="0.15" textLength="21.5" lengthAdjust="spacingAndGlyphs">016</text>
<text x="594.45" y="382.7" font-size="11.2" text-anchor="middle" font-weight="bold" fill="#2a1a08" stroke="#2a1a08" stroke-width="0.15" textLength="21.5" lengthAdjust="spacingAndGlyphs">019</text>
<text x="302.6" y="398.4" font-size="10.8" text-anchor="start" font-weight="normal" fill="#303030" stroke="#303030" stroke-width="0.12" textLength="44" lengthAdjust="spacingAndGlyphs">Dim. &#8220;A&#8221;</text>
<text x="397.5" y="398.4" font-size="11" text-anchor="middle" font-weight="normal" fill="#303030" stroke="#303030" stroke-width="0.12" textLength="27.6" lengthAdjust="spacingAndGlyphs">128.8</text>
<text x="446.95000000000005" y="398.4" font-size="11" text-anchor="middle" font-weight="normal" fill="#303030" stroke="#303030" stroke-width="0.12" textLength="27.6" lengthAdjust="spacingAndGlyphs">133.5</text>
<text x="496.45000000000005" y="398.4" font-size="11" text-anchor="middle" font-weight="normal" fill="#303030" stroke="#303030" stroke-width="0.12" textLength="27.6" lengthAdjust="spacingAndGlyphs">138.3</text>
<text x="545.6500000000001" y="398.4" font-size="11" text-anchor="middle" font-weight="normal" fill="#303030" stroke="#303030" stroke-width="0.12" textLength="27.6" lengthAdjust="spacingAndGlyphs">141.4</text>
<text x="594.6500000000001" y="398.4" font-size="11" text-anchor="middle" font-weight="normal" fill="#303030" stroke="#303030" stroke-width="0.12" textLength="27.6" lengthAdjust="spacingAndGlyphs">146.1</text>
<text x="302.6" y="414.6" font-size="10.8" text-anchor="start" font-weight="normal" fill="#303030" stroke="#303030" stroke-width="0.12" textLength="44" lengthAdjust="spacingAndGlyphs">Dim. &#8220;B&#8221;</text>
<text x="397.5" y="414.6" font-size="11" text-anchor="middle" font-weight="normal" fill="#303030" stroke="#303030" stroke-width="0.12" textLength="21.400000000000002" lengthAdjust="spacingAndGlyphs">53.3</text>
<text x="446.95000000000005" y="414.6" font-size="11" text-anchor="middle" font-weight="normal" fill="#303030" stroke="#303030" stroke-width="0.12" textLength="12.4" lengthAdjust="spacingAndGlyphs">58</text>
<text x="496.45000000000005" y="414.6" font-size="11" text-anchor="middle" font-weight="normal" fill="#303030" stroke="#303030" stroke-width="0.12" textLength="21.400000000000002" lengthAdjust="spacingAndGlyphs">62.8</text>
<text x="545.6500000000001" y="414.6" font-size="11" text-anchor="middle" font-weight="normal" fill="#303030" stroke="#303030" stroke-width="0.12" textLength="21.400000000000002" lengthAdjust="spacingAndGlyphs">65.9</text>
<text x="594.6500000000001" y="414.6" font-size="11" text-anchor="middle" font-weight="normal" fill="#303030" stroke="#303030" stroke-width="0.12" textLength="21.400000000000002" lengthAdjust="spacingAndGlyphs">70.6</text>
<text x="302.6" y="430.4" font-size="10.8" text-anchor="start" font-weight="normal" fill="#303030" stroke="#303030" stroke-width="0.12" textLength="44" lengthAdjust="spacingAndGlyphs">Dim. &#8220;C&#8221;</text>
<text x="397.5" y="430.4" font-size="11" text-anchor="middle" font-weight="normal" fill="#303030" stroke="#303030" stroke-width="0.12" textLength="21.400000000000002" lengthAdjust="spacingAndGlyphs">68.7</text>
<text x="446.95000000000005" y="430.4" font-size="11" text-anchor="middle" font-weight="normal" fill="#303030" stroke="#303030" stroke-width="0.12" textLength="12.4" lengthAdjust="spacingAndGlyphs">71</text>
<text x="496.45000000000005" y="430.4" font-size="11" text-anchor="middle" font-weight="normal" fill="#303030" stroke="#303030" stroke-width="0.12" textLength="21.400000000000002" lengthAdjust="spacingAndGlyphs">73.4</text>
<text x="545.6500000000001" y="430.4" font-size="11" text-anchor="middle" font-weight="normal" fill="#303030" stroke="#303030" stroke-width="0.12" textLength="21.400000000000002" lengthAdjust="spacingAndGlyphs">74.9</text>
<text x="594.6500000000001" y="430.4" font-size="11" text-anchor="middle" font-weight="normal" fill="#303030" stroke="#303030" stroke-width="0.12" textLength="21.400000000000002" lengthAdjust="spacingAndGlyphs">77.3</text>
<line x1="8" y1="468" x2="619" y2="468" stroke="#7c7c7c" stroke-width="1.8"/>
<rect x="34.9" y="524.6" width="222.39" height="144.60000000000002" fill="#fde9c8" stroke="none" stroke-width="1.0" rx="0"/>
<line x1="29.9" y1="669.2" x2="265.28999999999996" y2="669.2" stroke="#2b2219" stroke-width="1.15"/>
<line x1="29.9" y1="640.2800000000001" x2="261.28999999999996" y2="640.2800000000001" stroke="#2b2219" stroke-width="1.15"/>
<line x1="29.9" y1="611.36" x2="261.28999999999996" y2="611.36" stroke="#2b2219" stroke-width="1.15"/>
<line x1="29.9" y1="582.44" x2="261.28999999999996" y2="582.44" stroke="#2b2219" stroke-width="1.15"/>
<line x1="29.9" y1="553.52" x2="261.28999999999996" y2="553.52" stroke="#2b2219" stroke-width="1.15"/>
<line x1="29.9" y1="524.6" x2="261.28999999999996" y2="524.6" stroke="#2b2219" stroke-width="1.15"/>
<line x1="34.9" y1="518.1" x2="34.9" y2="673.4000000000001" stroke="#2b2219" stroke-width="1.15"/>
<line x1="66.67" y1="521.1" x2="66.67" y2="673.4000000000001" stroke="#2b2219" stroke-width="1.15"/>
<line x1="98.44" y1="521.1" x2="98.44" y2="673.4000000000001" stroke="#2b2219" stroke-width="1.15"/>
<line x1="130.21" y1="521.1" x2="130.21" y2="673.4000000000001" stroke="#2b2219" stroke-width="1.15"/>
<line x1="161.98" y1="521.1" x2="161.98" y2="673.4000000000001" stroke="#2b2219" stroke-width="1.15"/>
<line x1="193.75" y1="521.1" x2="193.75" y2="673.4000000000001" stroke="#2b2219" stroke-width="1.15"/>
<line x1="225.52" y1="521.1" x2="225.52" y2="673.4000000000001" stroke="#2b2219" stroke-width="1.15"/>
<line x1="257.28999999999996" y1="521.1" x2="257.28999999999996" y2="673.4000000000001" stroke="#2b2219" stroke-width="1.15"/>
<text x="25.3" y="672.9000000000001" font-size="10.5" text-anchor="end" font-weight="normal" fill="#303030" stroke="#303030" stroke-width="0.1">0</text>
<text x="25.3" y="643.9800000000001" font-size="10.5" text-anchor="end" font-weight="normal" fill="#303030" stroke="#303030" stroke-width="0.1">20</text>
<text x="25.3" y="615.0600000000001" font-size="10.5" text-anchor="end" font-weight="normal" fill="#303030" stroke="#303030" stroke-width="0.1">40</text>
<text x="25.3" y="586.1400000000001" font-size="10.5" text-anchor="end" font-weight="normal" fill="#303030" stroke="#303030" stroke-width="0.1">60</text>
<text x="25.3" y="557.22" font-size="10.5" text-anchor="end" font-weight="normal" fill="#303030" stroke="#303030" stroke-width="0.1">80</text>
<text x="25.3" y="528.3000000000001" font-size="10.5" text-anchor="end" font-weight="normal" fill="#303030" stroke="#303030" stroke-width="0.1">100</text>
<text x="34.9" y="687.2" font-size="10.5" text-anchor="middle" font-weight="normal" fill="#303030" stroke="#303030" stroke-width="0.1">0</text>
<text x="98.44" y="687.2" font-size="10.5" text-anchor="middle" font-weight="normal" fill="#303030" stroke="#303030" stroke-width="0.1">100</text>
<text x="161.98" y="687.2" font-size="10.5" text-anchor="middle" font-weight="normal" fill="#303030" stroke="#303030" stroke-width="0.1">200</text>
<text x="216.2" y="687.2" font-size="10.5" text-anchor="start" font-weight="normal" fill="#303030" stroke="#303030" stroke-width="0.1" textLength="18.5" lengthAdjust="spacingAndGlyphs">300</text>
<text x="236.7" y="687.2" font-size="10.5" text-anchor="start" font-weight="normal" fill="#303030" stroke="#303030" stroke-width="0.1" textLength="68.8" lengthAdjust="spacingAndGlyphs">Pressure [bar]</text>
<text x="8.6" y="510.1" font-size="10.5" text-anchor="start" font-weight="normal" fill="#303030" stroke="#303030" stroke-width="0.1" textLength="60.9" lengthAdjust="spacingAndGlyphs">Torque [Nm]</text>
<rect x="177.1" y="535.6" width="40" height="12" fill="#fde9c8"/>
<text x="178.1" y="545.6" font-size="10.5" text-anchor="start" font-weight="normal" fill="#303030" stroke="#303030" stroke-width="0.1" textLength="15.1" lengthAdjust="spacingAndGlyphs">cm</text>
<text x="193.29999999999998" y="542.2" font-size="7.5" text-anchor="start" font-weight="normal" fill="#303030" stroke="#303030" stroke-width="0.1" textLength="3.9" lengthAdjust="spacingAndGlyphs">3</text>
<text x="197.6" y="545.6" font-size="10.5" text-anchor="start" font-weight="normal" fill="#303030" stroke="#303030" stroke-width="0.1" textLength="19.4" lengthAdjust="spacingAndGlyphs">/rev</text>
<line x1="54.5974" y1="655.7522" x2="193.75" y2="560.75" stroke="#1e1e1e" stroke-width="1.15"/>
<circle cx="193.75" cy="560.75" r="1.6" fill="#fde9c8" stroke="#1e1e1e" stroke-width="1.1"/>
<text x="196.8" y="563.5" font-size="10.5" text-anchor="start" font-weight="normal" fill="#303030" stroke="#303030" stroke-width="0.1" textLength="11.899999999999999" lengthAdjust="spacingAndGlyphs">19</text>
<line x1="55.5505" y1="657.35726" x2="193.75" y2="578.1020000000001" stroke="#1e1e1e" stroke-width="1.15"/>
<circle cx="193.75" cy="578.1020000000001" r="1.6" fill="#fde9c8" stroke="#1e1e1e" stroke-width="1.1"/>
<text x="195.5" y="578.7" font-size="10.5" text-anchor="start" font-weight="normal" fill="#303030" stroke="#303030" stroke-width="0.1" textLength="11.899999999999999" lengthAdjust="spacingAndGlyphs">16</text>
<line x1="56.5036" y1="658.2855920000001" x2="193.75" y2="588.947" stroke="#1e1e1e" stroke-width="1.15"/>
<circle cx="193.75" cy="588.947" r="1.6" fill="#fde9c8" stroke="#1e1e1e" stroke-width="1.1"/>
<text x="196.8" y="591.6" font-size="10.5" text-anchor="start" font-weight="normal" fill="#303030" stroke="#303030" stroke-width="0.1" textLength="11.899999999999999" lengthAdjust="spacingAndGlyphs">14</text>
<line x1="57.4567" y1="660.268058" x2="193.75" y2="606.2990000000001" stroke="#1e1e1e" stroke-width="1.15"/>
<circle cx="193.75" cy="606.2990000000001" r="1.6" fill="#fde9c8" stroke="#1e1e1e" stroke-width="1.1"/>
<text x="196.8" y="609" font-size="10.5" text-anchor="start" font-weight="normal" fill="#303030" stroke="#303030" stroke-width="0.1" textLength="11.899999999999999" lengthAdjust="spacingAndGlyphs">11</text>
<line x1="58.4098" y1="662.4159464" x2="193.75" y2="623.3618" stroke="#1e1e1e" stroke-width="1.15"/>
<circle cx="193.75" cy="623.3618" r="1.6" fill="#fde9c8" stroke="#1e1e1e" stroke-width="1.1"/>
<text x="198.5" y="626.2" font-size="10.5" text-anchor="start" font-weight="normal" fill="#303030" stroke="#303030" stroke-width="0.1" textLength="5.8" lengthAdjust="spacingAndGlyphs">8</text>
<rect x="344.9" y="524.6" width="152.49599999999998" height="144.60000000000002" fill="#fde9c8" stroke="none" stroke-width="1.0" rx="0"/>
<line x1="339.9" y1="669.2" x2="505.39599999999996" y2="669.2" stroke="#2b2219" stroke-width="1.15"/>
<line x1="339.9" y1="640.2800000000001" x2="502.39599999999996" y2="640.2800000000001" stroke="#2b2219" stroke-width="1.15"/>
<line x1="339.9" y1="611.36" x2="502.39599999999996" y2="611.36" stroke="#2b2219" stroke-width="1.15"/>
<line x1="339.9" y1="582.44" x2="502.39599999999996" y2="582.44" stroke="#2b2219" stroke-width="1.15"/>
<line x1="339.9" y1="553.52" x2="502.39599999999996" y2="553.52" stroke="#2b2219" stroke-width="1.15"/>
<line x1="339.9" y1="524.6" x2="502.39599999999996" y2="524.6" stroke="#2b2219" stroke-width="1.15"/>
<line x1="344.9" y1="518.1" x2="344.9" y2="673.4000000000001" stroke="#2b2219" stroke-width="1.15"/>
<line x1="376.66999999999996" y1="521.1" x2="376.66999999999996" y2="673.4000000000001" stroke="#2b2219" stroke-width="1.15"/>
<line x1="408.44" y1="521.1" x2="408.44" y2="673.4000000000001" stroke="#2b2219" stroke-width="1.15"/>
<line x1="440.21" y1="521.1" x2="440.21" y2="673.4000000000001" stroke="#2b2219" stroke-width="1.15"/>
<line x1="471.97999999999996" y1="521.1" x2="471.97999999999996" y2="673.4000000000001" stroke="#2b2219" stroke-width="1.15"/>
<line x1="497.39599999999996" y1="521.1" x2="497.39599999999996" y2="673.4000000000001" stroke="#2b2219" stroke-width="1.15"/>
<text x="335.3" y="672.9000000000001" font-size="10.5" text-anchor="end" font-weight="normal" fill="#303030" stroke="#303030" stroke-width="0.1">0</text>
<text x="335.3" y="643.9800000000001" font-size="10.5" text-anchor="end" font-weight="normal" fill="#303030" stroke="#303030" stroke-width="0.1">10</text>
<text x="335.3" y="615.0600000000001" font-size="10.5" text-anchor="end" font-weight="normal" fill="#303030" stroke="#303030" stroke-width="0.1">20</text>
<text x="335.3" y="586.1400000000001" font-size="10.5" text-anchor="end" font-weight="normal" fill="#303030" stroke="#303030" stroke-width="0.1">30</text>
<text x="335.3" y="557.22" font-size="10.5" text-anchor="end" font-weight="normal" fill="#303030" stroke="#303030" stroke-width="0.1">40</text>
<text x="335.3" y="528.3000000000001" font-size="10.5" text-anchor="end" font-weight="normal" fill="#303030" stroke="#303030" stroke-width="0.1">50</text>
<text x="344.9" y="686.4" font-size="10.5" text-anchor="middle" font-weight="normal" fill="#303030" stroke="#303030" stroke-width="0.1">0</text>
<text x="408.44" y="686.4" font-size="10.5" text-anchor="middle" font-weight="normal" fill="#303030" stroke="#303030" stroke-width="0.1">1000</text>
<text x="471.97999999999996" y="686.4" font-size="10.5" text-anchor="middle" font-weight="normal" fill="#303030" stroke="#303030" stroke-width="0.1">2000</text>
<text x="494.5" y="686.4" font-size="10.5" text-anchor="start" font-weight="normal" fill="#303030" stroke="#303030" stroke-width="0.1" textLength="61.4" lengthAdjust="spacingAndGlyphs">Speed [rpm]</text>
<text x="322.1" y="510.2" font-size="10.5" text-anchor="start" font-weight="normal" fill="#303030" stroke="#303030" stroke-width="0.1" textLength="56" lengthAdjust="spacingAndGlyphs">Flow [l/min]</text>
<rect x="450.5" y="536.6" width="40" height="12" fill="#fde9c8"/>
<text x="451.5" y="546.6" font-size="10.5" text-anchor="start" font-weight="normal" fill="#303030" stroke="#303030" stroke-width="0.1" textLength="15.1" lengthAdjust="spacingAndGlyphs">cm</text>
<text x="466.7" y="543.2" font-size="7.5" text-anchor="start" font-weight="normal" fill="#303030" stroke="#303030" stroke-width="0.1" textLength="3.9" lengthAdjust="spacingAndGlyphs">3</text>
<text x="471.0" y="546.6" font-size="10.5" text-anchor="start" font-weight="normal" fill="#303030" stroke="#303030" stroke-width="0.1" textLength="19.4" lengthAdjust="spacingAndGlyphs">/rev</text>
<line x1="376.66999999999996" y1="641.726" x2="440.21" y2="586.778" stroke="#1e1e1e" stroke-width="1.15"/>
<circle cx="376.66999999999996" cy="641.726" r="1.6" fill="#fde9c8" stroke="#1e1e1e" stroke-width="1.1"/>
<circle cx="440.21" cy="586.778" r="1.6" fill="#fde9c8" stroke="#1e1e1e" stroke-width="1.1"/>
<line x1="376.66999999999996" y1="645.1964" x2="457.3658" y2="588.224" stroke="#1e1e1e" stroke-width="1.15"/>
<circle cx="376.66999999999996" cy="645.1964" r="1.6" fill="#fde9c8" stroke="#1e1e1e" stroke-width="1.1"/>
<circle cx="457.3658" cy="588.224" r="1.6" fill="#fde9c8" stroke="#1e1e1e" stroke-width="1.1"/>
<line x1="376.66999999999996" y1="649.2452000000001" x2="471.97999999999996" y2="589.0916000000001" stroke="#1e1e1e" stroke-width="1.15"/>
<circle cx="376.66999999999996" cy="649.2452000000001" r="1.6" fill="#fde9c8" stroke="#1e1e1e" stroke-width="1.1"/>
<circle cx="471.97999999999996" cy="589.0916000000001" r="1.6" fill="#fde9c8" stroke="#1e1e1e" stroke-width="1.1"/>
<line x1="376.66999999999996" y1="653.8724000000001" x2="471.97999999999996" y2="607.022" stroke="#1e1e1e" stroke-width="1.15"/>
<circle cx="376.66999999999996" cy="653.8724000000001" r="1.6" fill="#fde9c8" stroke="#1e1e1e" stroke-width="1.1"/>
<circle cx="471.97999999999996" cy="607.022" r="1.6" fill="#fde9c8" stroke="#1e1e1e" stroke-width="1.1"/>
<line x1="376.66999999999996" y1="657.9212" x2="471.97999999999996" y2="622.928" stroke="#1e1e1e" stroke-width="1.15"/>
<circle cx="376.66999999999996" cy="657.9212" r="1.6" fill="#fde9c8" stroke="#1e1e1e" stroke-width="1.1"/>
<circle cx="471.97999999999996" cy="622.928" r="1.6" fill="#fde9c8" stroke="#1e1e1e" stroke-width="1.1"/>
<text x="442.1" y="577" font-size="10.5" text-anchor="start" font-weight="normal" fill="#303030" stroke="#303030" stroke-width="0.1" textLength="11.899999999999999" lengthAdjust="spacingAndGlyphs">19</text>
<text x="457.8" y="581.2" font-size="10.5" text-anchor="start" font-weight="normal" fill="#303030" stroke="#303030" stroke-width="0.1" textLength="11.899999999999999" lengthAdjust="spacingAndGlyphs">16</text>
<text x="476.8" y="593.4" font-size="10.5" text-anchor="start" font-weight="normal" fill="#303030" stroke="#303030" stroke-width="0.1" textLength="11.899999999999999" lengthAdjust="spacingAndGlyphs">14</text>
<text x="476.8" y="609.8" font-size="10.5" text-anchor="start" font-weight="normal" fill="#303030" stroke="#303030" stroke-width="0.1" textLength="11.899999999999999" lengthAdjust="spacingAndGlyphs">11</text>
<text x="480" y="625" font-size="10.5" text-anchor="start" font-weight="normal" fill="#303030" stroke="#303030" stroke-width="0.1" textLength="5.8" lengthAdjust="spacingAndGlyphs">8</text>
<text x="8.3" y="739.5" font-size="10.5" text-anchor="start" font-weight="normal" fill="#333333" stroke="#333333" stroke-width="0.05" textLength="186.6" lengthAdjust="spacingAndGlyphs">Diagrams reflect theoretical values</text>
<text x="8.3" y="757.8" font-size="10.5" text-anchor="start" font-weight="normal" fill="#333333" stroke="#333333" stroke-width="0.05" textLength="109.2" lengthAdjust="spacingAndGlyphs">Direction of rotation:</text>
<text x="8.3" y="771.7" font-size="10.5" text-anchor="start" font-weight="normal" fill="#333333" stroke="#333333" stroke-width="0.05" textLength="73" lengthAdjust="spacingAndGlyphs">Input pressure:</text>
<text x="8.3" y="789.5" font-size="10.5" text-anchor="start" font-weight="normal" fill="#333333" stroke="#333333" stroke-width="0.05" textLength="90.5" lengthAdjust="spacingAndGlyphs">Fluid temperature:</text>
<text x="8.3" y="803.3" font-size="10.5" text-anchor="start" font-weight="normal" fill="#333333" stroke="#333333" stroke-width="0.05" textLength="146.4" lengthAdjust="spacingAndGlyphs">Range of operating viscosity:</text>
<text x="169.2" y="757.8" font-size="10.5" text-anchor="start" font-weight="normal" fill="#333333" stroke="#333333" stroke-width="0.05" textLength="72" lengthAdjust="spacingAndGlyphs">Bi-directional</text>
<text x="169.2" y="771.7" font-size="10.5" text-anchor="start" font-weight="normal" fill="#333333" stroke="#333333" stroke-width="0.05" textLength="130" lengthAdjust="spacingAndGlyphs">0.8 to 2.0 bar (absolute)</text>
<text x="169.2" y="789.5" font-size="10.5" text-anchor="start" font-weight="normal" fill="#333333" stroke="#333333" stroke-width="0.05" textLength="16.4" lengthAdjust="spacingAndGlyphs">-15</text>
<text x="187.2" y="787.5" font-size="8" text-anchor="start" font-weight="normal" fill="#333333" stroke="#333333" stroke-width="0.05">&#730;</text>
<text x="189.9" y="789.5" font-size="10.5" text-anchor="start" font-weight="normal" fill="#333333" stroke="#333333" stroke-width="0.05" textLength="48.4" lengthAdjust="spacingAndGlyphs">C to +80</text>
<text x="240.8" y="787.5" font-size="8" text-anchor="start" font-weight="normal" fill="#333333" stroke="#333333" stroke-width="0.05">&#730;</text>
<text x="243.3" y="789.5" font-size="10.5" text-anchor="start" font-weight="normal" fill="#333333" stroke="#333333" stroke-width="0.05" textLength="9.3" lengthAdjust="spacingAndGlyphs">C</text>
<text x="169.2" y="803.3" font-size="10.5" text-anchor="start" font-weight="normal" fill="#333333" stroke="#333333" stroke-width="0.05" textLength="66.8" lengthAdjust="spacingAndGlyphs">8 to 1000 mm</text>
<text x="236.3" y="799.2" font-size="7.5" text-anchor="start" font-weight="normal" fill="#333333" stroke="#333333" stroke-width="0.05" textLength="4.5" lengthAdjust="spacingAndGlyphs">2</text>
<text x="242.3" y="803.3" font-size="10.5" text-anchor="start" font-weight="normal" fill="#333333" stroke="#333333" stroke-width="0.05" textLength="39" lengthAdjust="spacingAndGlyphs">/s (cSt)</text>
</svg>
</body></html>
